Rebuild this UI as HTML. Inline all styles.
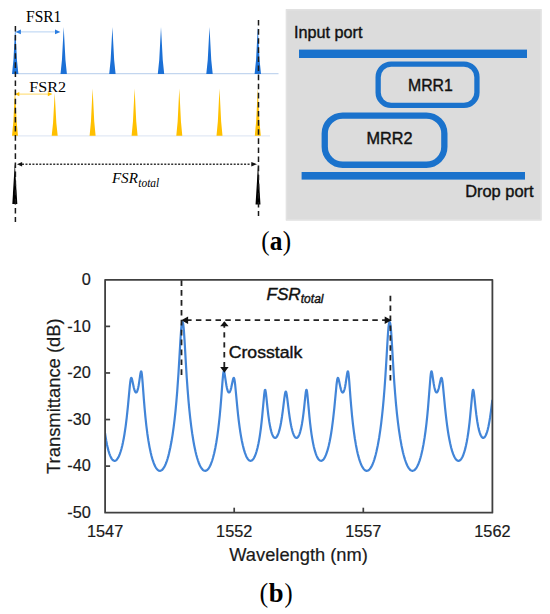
<!DOCTYPE html>
<html><head><meta charset="utf-8"><style>
html,body{margin:0;padding:0;background:#fff;}
svg{display:block;}
</style></head><body>
<svg width="550" height="614" viewBox="0 0 550 614">
<rect width="550" height="614" fill="#fff"/>
<line x1="12.5" y1="73.7" x2="278.5" y2="73.7" stroke="#c3d6ef" stroke-width="1.3"/>
<path d="M12.00,74.0 L13.44,59.90 L15.20,27 L16.96,59.90 L18.40,74.0 Z" fill="#1b70d6"/>
<path d="M60.50,74.0 L61.94,59.90 L63.70,27 L65.46,59.90 L66.90,74.0 Z" fill="#1b70d6"/>
<path d="M109.20,74.0 L110.64,59.90 L112.40,27 L114.16,59.90 L115.60,74.0 Z" fill="#1b70d6"/>
<path d="M157.80,74.0 L159.24,59.90 L161.00,27 L162.76,59.90 L164.20,74.0 Z" fill="#1b70d6"/>
<path d="M206.30,74.0 L207.74,59.90 L209.50,27 L211.26,59.90 L212.70,74.0 Z" fill="#1b70d6"/>
<path d="M254.60,74.0 L256.04,59.90 L257.80,27 L259.56,59.90 L261.00,74.0 Z" fill="#1b70d6"/>
<line x1="19" y1="31.9" x2="57" y2="31.9" stroke="#b5d2f2" stroke-width="1"/>
<path d="M15.5,31.9 L20.9,29.599999999999998 L20.9,34.199999999999996 Z" fill="#2a7de0"/>
<path d="M60.4,31.9 L55.0,29.599999999999998 L55.0,34.199999999999996 Z" fill="#2a7de0"/>
<text transform="translate(26.07,22.30) scale(0.9784,1)" font-family="Liberation Serif, serif" font-size="15.85" fill="#000">FSR1</text>
<line x1="12.5" y1="135.8" x2="270" y2="135.8" stroke="#e2e9f5" stroke-width="1.3"/>
<path d="M12.00,135.8 L13.35,121.76 L15.00,89 L16.65,121.76 L18.00,135.8 Z" fill="#ffc000"/>
<path d="M51.70,135.8 L53.05,122.96 L54.70,93 L56.35,122.96 L57.70,135.8 Z" fill="#ffc000"/>
<path d="M89.60,135.8 L90.95,121.61 L92.60,88.5 L94.25,121.61 L95.60,135.8 Z" fill="#ffc000"/>
<path d="M131.60,135.8 L132.95,121.61 L134.60,88.5 L136.25,121.61 L137.60,135.8 Z" fill="#ffc000"/>
<path d="M176.30,135.8 L177.65,121.61 L179.30,88.5 L180.95,121.61 L182.30,135.8 Z" fill="#ffc000"/>
<path d="M216.50,135.8 L217.85,121.61 L219.50,88.5 L221.15,121.61 L222.50,135.8 Z" fill="#ffc000"/>
<path d="M254.80,135.8 L256.15,121.61 L257.80,88.5 L259.45,121.61 L260.80,135.8 Z" fill="#ffc000"/>
<line x1="18" y1="94.1" x2="49" y2="94.1" stroke="#ffd966" stroke-width="1"/>
<path d="M14.9,94.1 L19.3,92.0 L19.3,96.19999999999999 Z" fill="#ffc000"/>
<path d="M52.4,94.1 L47.8,92.0 L47.8,96.19999999999999 Z" fill="#ffc000"/>
<text transform="translate(29.16,91.80) scale(1.0597,1)" font-family="Liberation Serif, serif" font-size="15.25" fill="#000">FSR2</text>
<path d="M14.8,163 L17.3,204 L12.3,204 Z" fill="#000"/>
<path d="M258.0,164 L260.45,204.6 L255.55,204.6 Z" fill="#000"/>
<line x1="15.4" y1="25.9" x2="15.4" y2="222" stroke="#1a1a1a" stroke-width="1.5" stroke-dasharray="5.6,3.5"/>
<line x1="258.5" y1="20" x2="258.5" y2="216" stroke="#1a1a1a" stroke-width="1.5" stroke-dasharray="5.6,3.5"/>
<line x1="22" y1="164.2" x2="251.3" y2="164.2" stroke="#333" stroke-width="1.4" stroke-dasharray="2,1.47"/>
<path d="M17,164.2 L22.1,161.89999999999998 L22.1,166.5 Z" fill="#111"/>
<path d="M257,164.2 L251.3,162.0 L251.3,166.39999999999998 Z" fill="#111"/>
<text transform="translate(111.88,183.30) scale(1.0239,1)" font-family="Liberation Serif, serif" font-size="14.79" font-style="italic" fill="#000">FSR</text>
<text transform="translate(138.28,186.60) scale(0.9866,1)" font-family="Liberation Serif, serif" font-size="11.60" font-style="italic" fill="#000">total</text>
<rect x="285.8" y="9.1" width="255.8" height="211.4" fill="#dcdcdc"/>
<rect x="286.6" y="9.9" width="254.2" height="209.8" fill="none" stroke="#e2e2e2" stroke-width="1.4"/>
<rect x="299" y="49.6" width="228" height="8.4" fill="#1a72cc"/>
<rect x="301.6" y="172" width="223.4" height="7.6" fill="#1a72cc"/>
<rect x="378.15" y="64.15" width="98.8" height="41.3" rx="13" ry="13" fill="none" stroke="#1a72cc" stroke-width="5.3"/>
<rect x="324.75" y="115.55" width="119.6" height="49.2" rx="18" ry="18" fill="none" stroke="#1a72cc" stroke-width="6.3"/>
<text transform="translate(294.00,38.20) scale(0.9530,1)" font-family="Liberation Sans, sans-serif" font-size="17.02" fill="#111" stroke="#111" stroke-width="0.4">Input port</text>
<text transform="translate(407.99,91.10) scale(0.9306,1)" font-family="Liberation Sans, sans-serif" font-size="17.02" fill="#111" stroke="#111" stroke-width="0.4">MRR1</text>
<text transform="translate(366.56,144.00) scale(1.0126,1)" font-family="Liberation Sans, sans-serif" font-size="16.06" fill="#111" stroke="#111" stroke-width="0.4">MRR2</text>
<text transform="translate(465.14,197.20) scale(0.9909,1)" font-family="Liberation Sans, sans-serif" font-size="16.58" fill="#111" stroke="#111" stroke-width="0.4">Drop port</text>
<text transform="translate(261.24,249.86) scale(0.9359,1)" font-family="Liberation Serif, serif" font-size="26.56" fill="#000">(</text>
<text transform="translate(282.78,249.86) scale(0.9505,1)" font-family="Liberation Serif, serif" font-size="26.56" fill="#000">)</text>
<text transform="translate(269.77,250.10) scale(0.9259,1)" font-family="Liberation Serif, serif" font-size="27.45" font-weight="bold" fill="#000">a</text>
<clipPath id="pc"><rect x="105.1" y="279" width="387.3" height="234"/></clipPath>
<path d="M105.00,432.87 105.62,437.02 106.29,440.97 107.01,444.69 107.73,447.90 108.51,450.87 109.28,453.37 110.11,455.60 110.93,457.39 111.81,458.86 112.22,459.41 112.69,459.91 113.10,460.27 113.57,460.56 113.98,460.73 114.44,460.82 114.86,460.81 115.32,460.70 115.78,460.48 116.25,460.16 116.71,459.73 117.13,459.25 118.00,457.96 118.88,456.27 119.76,454.15 120.58,451.76 121.41,448.94 122.23,445.68 123.01,442.16 123.78,438.17 124.50,433.96 125.64,426.29 126.72,417.56 127.86,406.76 129.87,385.34 130.34,381.45 130.59,379.83 130.80,378.87 131.01,378.23 131.11,378.03 131.26,377.88 131.37,377.87 131.47,377.93 131.73,378.38 131.99,379.16 132.30,380.41 133.79,387.53 134.52,390.16 135.03,391.46 135.50,392.19 135.75,392.42 135.96,392.50 136.22,392.48 136.42,392.38 136.68,392.12 136.89,391.81 137.30,390.92 137.71,389.66 138.13,388.02 138.54,385.99 138.95,383.60 140.50,373.22 140.86,371.71 141.02,371.39 141.17,371.32 141.33,371.52 141.43,371.80 141.64,372.75 141.89,374.61 142.15,377.10 142.62,382.66 143.91,399.85 144.58,408.01 145.45,417.43 146.38,426.00 147.36,433.72 148.40,440.66 149.53,447.11 150.72,452.77 151.44,455.73 152.16,458.38 152.88,460.73 153.66,462.93 154.43,464.84 155.21,466.46 155.98,467.81 156.81,468.97 157.63,469.84 158.46,470.44 158.87,470.63 159.28,470.76 159.70,470.82 160.11,470.82 160.57,470.73 160.99,470.58 161.81,470.08 162.64,469.32 163.46,468.28 164.19,467.14 164.91,465.77 165.63,464.19 166.30,462.50 166.97,460.60 167.64,458.49 168.31,456.14 168.98,453.54 170.27,447.81 171.46,441.56 172.60,434.57 173.68,426.83 174.66,418.76 175.54,410.51 176.41,401.12 177.24,391.05 178.48,373.29 180.49,339.06 181.16,329.52 181.47,326.32 181.78,324.02 182.09,322.60 182.25,322.20 182.35,322.05 182.45,321.98 182.55,322.01 182.66,322.11 182.86,322.60 183.23,324.34 183.59,327.29 183.95,331.44 184.52,339.90 185.91,364.02 186.73,377.26 187.61,389.68 188.54,401.10 189.42,410.49 190.29,418.73 191.22,426.41 192.20,433.50 193.49,441.52 194.16,445.18 194.89,448.76 195.61,452.00 196.33,454.93 197.11,457.75 197.88,460.26 198.65,462.47 199.48,464.51 200.31,466.26 201.13,467.71 201.96,468.87 202.78,469.76 203.61,470.38 204.02,470.59 204.48,470.75 205.26,470.82 205.98,470.68 206.70,470.33 207.43,469.78 208.15,469.01 208.87,468.03 209.59,466.82 210.26,465.49 210.93,463.96 211.61,462.21 212.28,460.23 212.95,458.00 214.19,453.21 215.37,447.66 216.35,442.26 217.28,436.34 218.16,429.91 218.98,422.96 219.81,414.99 220.58,406.45 221.25,398.16 222.49,381.70 222.91,376.87 223.16,374.44 223.42,372.64 223.63,371.74 223.73,371.48 223.89,371.31 224.04,371.42 224.20,371.76 224.56,373.30 226.11,383.65 226.52,386.03 226.93,388.04 227.34,389.67 227.76,390.92 228.17,391.81 228.38,392.11 228.63,392.37 228.84,392.48 229.05,392.51 229.25,392.45 229.46,392.30 229.87,391.76 230.28,390.90 230.75,389.54 231.27,387.60 232.71,380.74 233.17,378.89 233.43,378.21 233.69,377.88 233.85,377.89 233.95,377.99 234.21,378.58 234.41,379.41 234.67,380.87 235.19,385.01 237.41,408.38 238.08,414.79 238.80,421.03 239.52,426.61 240.24,431.59 241.02,436.33 241.84,440.78 242.82,445.34 243.86,449.39 244.94,452.89 246.02,455.70 246.59,456.91 247.16,457.96 247.73,458.83 248.29,459.55 248.86,460.10 249.43,460.50 250.00,460.74 250.56,460.83 251.13,460.76 251.65,460.55 252.16,460.22 252.68,459.75 253.20,459.14 253.71,458.39 254.23,457.49 254.69,456.55 255.67,454.14 256.60,451.28 257.48,448.00 258.36,444.08 259.03,440.59 259.70,436.61 260.32,432.45 260.94,427.76 261.61,421.99 262.23,415.98 264.19,394.58 264.65,391.11 264.91,390.09 265.01,389.89 265.11,389.83 265.27,389.96 265.48,390.57 265.89,392.99 266.35,396.99 267.59,408.97 268.31,415.12 269.24,421.68 269.71,424.43 270.22,427.11 270.79,429.65 271.36,431.79 271.93,433.57 272.55,435.13 273.16,436.33 273.84,437.24 274.14,437.53 274.45,437.73 274.76,437.86 275.13,437.91 275.43,437.87 275.74,437.75 276.05,437.55 276.36,437.28 276.98,436.49 277.60,435.37 278.22,433.93 278.79,432.30 279.41,430.16 279.98,427.86 280.49,425.47 281.01,422.76 281.99,416.70 282.76,411.06 284.26,398.84 284.83,394.78 285.29,392.47 285.55,391.78 285.75,391.58 285.86,391.60 285.96,391.70 286.22,392.30 286.43,393.11 286.68,394.47 287.25,398.44 288.90,411.86 289.83,418.42 290.40,421.89 291.02,425.21 291.64,428.09 292.31,430.74 293.03,433.08 293.75,434.94 294.48,436.33 294.84,436.86 295.25,437.34 295.61,437.64 296.02,437.85 296.44,437.93 296.80,437.88 297.21,437.69 297.57,437.42 297.93,437.03 298.29,436.53 298.81,435.61 299.27,434.57 299.74,433.32 300.20,431.85 301.08,428.39 301.96,423.95 302.73,419.08 303.51,413.20 304.18,407.26 305.31,396.25 305.72,392.79 305.93,391.45 306.14,390.47 306.34,389.92 306.45,389.83 306.55,389.87 306.76,390.32 306.96,391.26 307.38,394.34 309.44,416.71 310.11,423.09 310.83,429.11 311.55,434.35 312.28,438.89 313.05,443.11 313.88,446.95 314.91,450.94 315.94,454.15 316.51,455.61 317.08,456.87 317.64,457.95 318.21,458.84 318.78,459.57 319.40,460.16 319.97,460.54 320.58,460.77 321.15,460.82 321.77,460.69 322.39,460.38 322.96,459.93 323.47,459.39 323.99,458.71 324.51,457.90 324.97,457.06 325.95,454.91 326.93,452.22 327.86,449.15 328.79,445.51 329.67,441.52 330.49,437.19 331.16,433.24 331.83,428.84 333.07,419.39 334.31,408.01 336.48,385.25 336.99,381.07 337.25,379.56 337.46,378.69 337.72,378.04 337.82,377.92 337.97,377.88 338.08,377.94 338.23,378.16 338.49,378.80 338.95,380.59 340.45,387.64 340.97,389.57 341.43,390.92 341.84,391.78 342.26,392.33 342.46,392.47 342.67,392.54 342.88,392.52 343.08,392.41 343.34,392.16 343.55,391.86 343.96,390.99 344.37,389.76 344.79,388.16 345.20,386.19 345.66,383.53 346.85,375.45 347.21,373.25 347.57,371.74 347.78,371.36 347.93,371.36 348.14,371.78 348.40,372.99 348.86,376.91 349.27,381.71 350.51,398.07 351.24,406.92 352.06,415.88 352.94,424.14 353.87,431.67 354.85,438.51 355.88,444.68 356.96,450.20 357.63,453.19 358.30,455.89 358.98,458.31 359.70,460.65 360.42,462.70 361.14,464.50 361.86,466.06 362.64,467.47 363.41,468.62 364.19,469.53 364.96,470.19 365.73,470.62 366.51,470.81 366.92,470.82 367.33,470.76 368.11,470.48 368.88,469.97 369.71,469.17 370.48,468.17 371.26,466.94 372.03,465.45 372.80,463.70 373.53,461.83 374.30,459.56 375.02,457.17 375.75,454.51 376.47,451.56 377.81,445.24 379.10,438.00 380.29,430.15 381.21,423.07 382.09,415.48 382.92,407.42 383.69,398.91 384.57,387.97 385.39,376.21 386.17,363.86 387.56,339.98 388.13,331.58 388.49,327.43 388.85,324.46 389.21,322.67 389.37,322.25 389.57,321.99 389.68,321.99 389.78,322.08 389.94,322.36 390.24,323.54 390.55,325.57 390.92,329.06 391.28,333.66 391.64,339.13 393.75,374.62 394.42,384.43 395.10,393.28 395.97,403.55 396.95,413.53 397.98,422.62 399.07,430.85 400.31,438.90 401.60,446.00 402.94,452.18 403.66,455.07 404.38,457.67 405.11,460.00 405.88,462.22 406.60,464.04 407.38,465.74 408.15,467.18 408.92,468.37 409.70,469.32 410.52,470.08 411.30,470.55 411.71,470.71 412.12,470.80 412.90,470.80 413.67,470.57 414.45,470.10 415.22,469.41 415.99,468.47 416.77,467.28 417.54,465.83 418.26,464.25 418.99,462.41 419.71,460.32 420.43,457.95 421.10,455.50 421.77,452.76 422.44,449.74 423.53,444.16 424.56,437.92 425.54,431.02 426.42,423.86 427.29,415.59 428.12,406.63 430.44,377.28 430.70,374.79 430.96,372.89 431.22,371.72 431.42,371.32 431.58,371.34 431.78,371.74 432.14,373.25 433.69,383.49 434.16,386.14 434.57,388.10 434.98,389.70 435.39,390.93 435.81,391.79 436.01,392.09 436.27,392.35 436.48,392.45 436.74,392.47 436.94,392.39 437.20,392.17 437.67,391.47 438.18,390.21 438.54,389.04 438.96,387.45 440.45,380.43 440.76,379.19 441.02,378.41 441.28,377.94 441.38,377.86 441.48,377.85 441.64,377.98 441.74,378.15 441.95,378.74 442.15,379.64 442.41,381.17 442.93,385.38 445.10,408.03 445.77,414.41 446.44,420.21 447.11,425.44 447.83,430.50 448.55,435.01 449.28,439.04 450.20,443.58 451.18,447.68 452.16,451.13 453.20,454.14 454.23,456.55 454.74,457.54 455.31,458.48 455.83,459.19 456.40,459.83 456.91,460.27 457.48,460.61 458.05,460.80 458.61,460.83 459.18,460.71 459.75,460.43 460.32,460.00 460.89,459.40 461.45,458.64 461.97,457.79 462.54,456.69 463.05,455.53 464.08,452.72 465.06,449.38 465.99,445.54 466.77,441.75 467.49,437.67 468.21,432.97 468.88,427.99 469.55,422.32 470.17,416.41 472.19,394.69 472.60,391.50 472.80,390.48 473.01,389.92 473.11,389.83 473.22,389.86 473.42,390.29 473.63,391.16 473.89,392.77 474.35,396.66 475.64,409.00 476.31,414.68 477.24,421.27 478.17,426.48 478.69,428.87 479.20,430.92 479.72,432.67 480.29,434.27 480.85,435.56 481.42,436.56 481.99,437.27 482.30,437.54 482.61,437.74 482.92,437.86 483.28,437.90 483.59,437.85 483.95,437.69 484.31,437.44 484.62,437.13 485.24,436.29 485.91,435.03 486.53,433.51 487.15,431.65 487.77,429.42 488.34,427.03 488.90,424.29 489.47,421.17 489.99,417.99 490.97,411.03 492.36,399.76" fill="none" stroke="#4285d8" stroke-width="2.2" stroke-linejoin="round" clip-path="url(#pc)"/>
<rect x="105.1" y="279.8" width="387.30" height="232.90" fill="none" stroke="#404040" stroke-width="1.8" stroke-linejoin="round"/>
<line x1="105.1" y1="326.38" x2="110.1" y2="326.38" stroke="#404040" stroke-width="1.7"/>
<line x1="105.1" y1="372.96" x2="110.1" y2="372.96" stroke="#404040" stroke-width="1.7"/>
<line x1="105.1" y1="419.54" x2="110.1" y2="419.54" stroke="#404040" stroke-width="1.7"/>
<line x1="105.1" y1="466.12" x2="110.1" y2="466.12" stroke="#404040" stroke-width="1.7"/>
<line x1="234.20" y1="512.7" x2="234.20" y2="507.70000000000005" stroke="#404040" stroke-width="1.7"/>
<line x1="363.30" y1="512.7" x2="363.30" y2="507.70000000000005" stroke="#404040" stroke-width="1.7"/>
<text x="90.8" y="285.00" text-anchor="end" font-family="Liberation Sans, sans-serif" font-size="16.3" fill="#1a1a1a" stroke="#1a1a1a" stroke-width="0.2">0</text>
<text x="90.8" y="331.58" text-anchor="end" font-family="Liberation Sans, sans-serif" font-size="16.3" fill="#1a1a1a" stroke="#1a1a1a" stroke-width="0.2">-10</text>
<text x="90.8" y="378.16" text-anchor="end" font-family="Liberation Sans, sans-serif" font-size="16.3" fill="#1a1a1a" stroke="#1a1a1a" stroke-width="0.2">-20</text>
<text x="90.8" y="424.74" text-anchor="end" font-family="Liberation Sans, sans-serif" font-size="16.3" fill="#1a1a1a" stroke="#1a1a1a" stroke-width="0.2">-30</text>
<text x="90.8" y="471.32" text-anchor="end" font-family="Liberation Sans, sans-serif" font-size="16.3" fill="#1a1a1a" stroke="#1a1a1a" stroke-width="0.2">-40</text>
<text x="90.8" y="517.90" text-anchor="end" font-family="Liberation Sans, sans-serif" font-size="16.3" fill="#1a1a1a" stroke="#1a1a1a" stroke-width="0.2">-50</text>
<text x="105.10" y="536.6" text-anchor="middle" font-family="Liberation Sans, sans-serif" font-size="16.3" fill="#1a1a1a" stroke="#1a1a1a" stroke-width="0.2">1547</text>
<text x="234.20" y="536.6" text-anchor="middle" font-family="Liberation Sans, sans-serif" font-size="16.3" fill="#1a1a1a" stroke="#1a1a1a" stroke-width="0.2">1552</text>
<text x="363.30" y="536.6" text-anchor="middle" font-family="Liberation Sans, sans-serif" font-size="16.3" fill="#1a1a1a" stroke="#1a1a1a" stroke-width="0.2">1557</text>
<text x="492.40" y="536.6" text-anchor="middle" font-family="Liberation Sans, sans-serif" font-size="16.3" fill="#1a1a1a" stroke="#1a1a1a" stroke-width="0.2">1562</text>
<text x="229.3" y="560.8" font-family="Liberation Sans, sans-serif" font-size="18.3" fill="#1a1a1a" stroke="#1a1a1a" stroke-width="0.2">Wavelength (nm)</text>
<text transform="translate(59.7,474.0) rotate(-90)" font-family="Liberation Sans, sans-serif" font-size="18.4" fill="#1a1a1a" stroke="#1a1a1a" stroke-width="0.2">Transmittance (dB)</text>
<line x1="181.5" y1="280.2" x2="181.5" y2="375" stroke="#222" stroke-width="1.8" stroke-dasharray="5.7,4.2"/>
<line x1="390.4" y1="295.7" x2="390.4" y2="381" stroke="#222" stroke-width="1.8" stroke-dasharray="5.5,4.4"/>
<line x1="186.1" y1="320.2" x2="386" y2="320.2" stroke="#222" stroke-width="1.8" stroke-dasharray="5.5,4.3"/>
<path d="M181.3,320.2 L188.10000000000002,316.45 L188.10000000000002,323.95 Z" fill="#111"/>
<path d="M391.5,320.2 L384.7,316.45 L384.7,323.95 Z" fill="#111"/>
<line x1="224.3" y1="322.4" x2="224.3" y2="368" stroke="#222" stroke-width="1.8" stroke-dasharray="5.3,4.6"/>
<path d="M224.4,321.3 L220.20000000000002,326.3 L228.6,326.3 Z" fill="#111"/>
<path d="M224.4,372.7 L220.20000000000002,366.9 L228.6,366.9 Z" fill="#111"/>
<text transform="translate(228.72,358.20) scale(1.0407,1)" font-family="Liberation Sans, sans-serif" font-size="16.97" fill="#111" stroke="#111" stroke-width="0.4">Crosstalk</text>
<text transform="translate(266.38,300.30) scale(0.9924,1)" font-family="Liberation Sans, sans-serif" font-size="17.35" font-style="italic" fill="#111" stroke="#111" stroke-width="0.4">FSR</text>
<text transform="translate(300.76,303.20) scale(1.0040,1)" font-family="Liberation Sans, sans-serif" font-size="12.00" font-style="italic" fill="#111" stroke="#111" stroke-width="0.4">total</text>
<text transform="translate(259.39,601.86) scale(0.9798,1)" font-family="Liberation Serif, serif" font-size="26.56" fill="#000">(</text>
<text transform="translate(284.40,601.86) scale(0.9213,1)" font-family="Liberation Serif, serif" font-size="26.56" fill="#000">)</text>
<text transform="translate(268.77,602.10) scale(0.9553,1)" font-family="Liberation Serif, serif" font-size="27.91" font-weight="bold" fill="#000">b</text>
</svg>
</body></html>
